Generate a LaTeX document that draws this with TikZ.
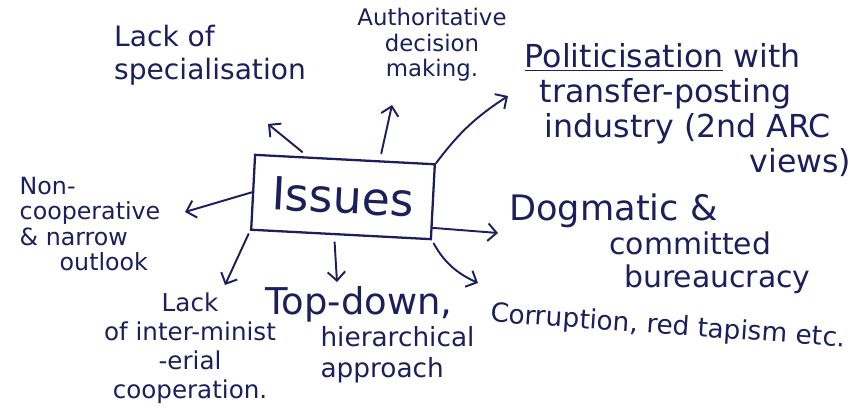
\documentclass[tikz,border=0pt]{standalone}
\usepackage{fontspec}
\setmainfont{DejaVu Sans}
\usetikzlibrary{arrows.meta}
\definecolor{ink}{HTML}{1B1F5C}

\begin{document}
\begin{tikzpicture}[
  x=0.02cm, y=-0.02cm,
  issuebox/.style={
    rectangle, draw=ink, line width=1.3pt, rotate=-3,
    minimum width=3.6cm, minimum height=1.5cm,
    text=ink, font=\fontsize{26}{30}\selectfont
  },
  note/.style={
    text=ink, inner sep=0pt, align=left,
    font=\fontsize{15}{18}\selectfont
  },
  arr/.style={-{Straight Barb[length=5pt,width=10pt]}, line width=1.1pt, ink, line cap=round}
]
\useasboundingbox (0,0) rectangle (859,416);

\node[issuebox] (issues) at (343,197) {Issues};

% labels round the centre box
\node[note, font=\fontsize{16}{19}\selectfont] (lackspec) at (210,55) {Lack of\\specialisation};
\node[note, align=center, font=\fontsize{13}{14.5}\selectfont] (authdec) at (432,45) {Authoritative\\decision\\making.};
\node[note, font=\fontsize{18}{20}\selectfont] (politics) at (688,110)
  {\underline{Politicisation} with\\\hspace*{0.3cm}transfer-posting\\\hspace*{0.4cm}industry (2nd ARC\\\hspace*{4.5cm}views)};
\node[note, font=\fontsize{13.5}{14.5}\selectfont] (noncoop) at (90,224) {Non-\\cooperative\\\& narrow\\\hspace*{0.8cm}outlook};
\node[note, font=\fontsize{17}{19}\selectfont] (dogmatic) at (660,244)
  {{\fontsize{20}{20}\selectfont Dogmatic \&}\\\hspace*{2cm}committed\\\hspace*{2.3cm}bureaucracy};
\node[note, rotate=-4, font=\fontsize{15}{18}\selectfont] (corrupt) at (668,327) {Corruption, red tapism etc.};
\node[note, font=\fontsize{15}{18}\selectfont] (topdown) at (370,335)
  {{\fontsize{21}{21}\selectfont Top-down,}\\\hspace*{1.1cm}hierarchical\\\hspace*{1.1cm}approach};
\node[note, align=center, font=\fontsize{14}{16.5}\selectfont] (lackinter) at (190,348)
  {Lack\\of inter-minist\\-erial\\cooperation.};

% arrow tips
\coordinate (tipspec)  at (268,124);
\coordinate (tipauth)  at (392,105);
\coordinate (tippol)   at (508,96);
\coordinate (tipcoop)  at (185,212);
\coordinate (tipdog)   at (498,233);
\coordinate (tipcorr)  at (478,283);
\coordinate (tiptop)   at (337,282);
\coordinate (tipinter) at (225,285);

\draw[arr, shorten <=4pt] (issues.134) -- (tipspec);
\draw[arr, shorten <=4pt] (issues.48) -- (tipauth);
\draw[arr] (issues.north east) to[bend left=10] (tippol);
\draw[arr] (issues.west) -- (tipcoop);
\draw[arr] (issues.-16) -- (tipdog);
\draw[arr, shorten <=2pt] (issues.south east) to[bend right=18] (tipcorr);
\draw[arr, shorten <=4pt] (issues.-100) -- (tiptop);
\draw[arr, shorten <=2pt] (issues.south west) -- (tipinter);
\end{tikzpicture}
\end{document}
